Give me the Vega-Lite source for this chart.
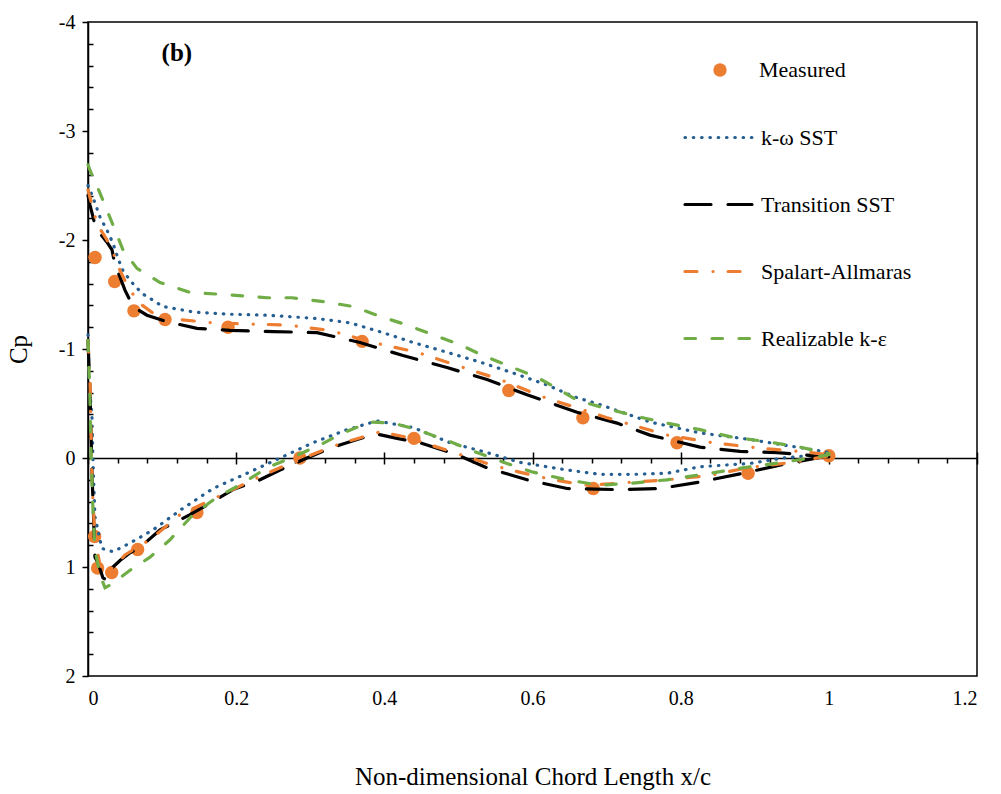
{
  "$schema": "https://vega.github.io/schema/vega-lite/v6.json",
  "width": 889,
  "height": 654,
  "autosize": {"type": "none"},
  "padding": {"left": 88, "top": 22, "right": 24, "bottom": 118},
  "background": "white",
  "config": {
    "view": {"stroke": "black", "strokeWidth": 1.5},
    "font": "Liberation Serif",
    "axis": {"grid": false, "domainColor": "black", "domainWidth": 1.5, "tickColor": "black", "tickWidth": 1.5, "labelFont": "Liberation Serif", "labelFontSize": 20, "labelColor": "black", "titleFont": "Liberation Serif", "titleFontSize": 25, "titleFontWeight": "normal", "titleColor": "black"},
    "legend": {"labelFont": "Liberation Serif", "labelFontSize": 22, "labelColor": "black"}
  },
  "datasets": {
    "measured": [
      {"series": "Measured", "x": 0.0095, "cp": -1.84}, {"series": "Measured", "x": 0.036, "cp": -1.62}, {"series": "Measured", "x": 0.062, "cp": -1.35}, {"series": "Measured", "x": 0.104, "cp": -1.27}, {"series": "Measured", "x": 0.189, "cp": -1.2}, {"series": "Measured", "x": 0.37, "cp": -1.07}, {"series": "Measured", "x": 0.568, "cp": -0.62}, {"series": "Measured", "x": 0.668, "cp": -0.37}, {"series": "Measured", "x": 0.795, "cp": -0.14}, {"series": "Measured", "x": 1.0, "cp": -0.02},
      {"series": "Measured", "x": 0.009, "cp": 0.72}, {"series": "Measured", "x": 0.013, "cp": 1.01}, {"series": "Measured", "x": 0.032, "cp": 1.05}, {"series": "Measured", "x": 0.067, "cp": 0.84}, {"series": "Measured", "x": 0.147, "cp": 0.5}, {"series": "Measured", "x": 0.286, "cp": 0.0}, {"series": "Measured", "x": 0.44, "cp": -0.18}, {"series": "Measured", "x": 0.682, "cp": 0.28}, {"series": "Measured", "x": 0.891, "cp": 0.14}
    ],
    "label": [{"text": "(b)", "x": 0.12, "cp": -3.72}],
    "cfd": [
      {"model": "k-ω SST", "side": "upper", "x": 0, "cp": -2.5}, {"model": "k-ω SST", "side": "upper", "x": 0.0027, "cp": -2.46}, {"model": "k-ω SST", "side": "upper", "x": 0.0094, "cp": -2.34}, {"model": "k-ω SST", "side": "upper", "x": 0.0162, "cp": -2.21}, {"model": "k-ω SST", "side": "upper", "x": 0.0256, "cp": -2.09}, {"model": "k-ω SST", "side": "upper", "x": 0.0337, "cp": -1.97}, {"model": "k-ω SST", "side": "upper", "x": 0.0405, "cp": -1.83}, {"model": "k-ω SST", "side": "upper", "x": 0.0472, "cp": -1.72}, {"model": "k-ω SST", "side": "upper", "x": 0.0567, "cp": -1.63}, {"model": "k-ω SST", "side": "upper", "x": 0.0729, "cp": -1.51}, {"model": "k-ω SST", "side": "upper", "x": 0.1012, "cp": -1.39}, {"model": "k-ω SST", "side": "upper", "x": 0.1417, "cp": -1.34}, {"model": "k-ω SST", "side": "upper", "x": 0.1876, "cp": -1.32}, {"model": "k-ω SST", "side": "upper", "x": 0.2416, "cp": -1.31}, {"model": "k-ω SST", "side": "upper", "x": 0.3091, "cp": -1.28}, {"model": "k-ω SST", "side": "upper", "x": 0.3537, "cp": -1.24}, {"model": "k-ω SST", "side": "upper", "x": 0.3982, "cp": -1.15}, {"model": "k-ω SST", "side": "upper", "x": 0.4387, "cp": -1.06}, {"model": "k-ω SST", "side": "upper", "x": 0.4846, "cp": -0.97}, {"model": "k-ω SST", "side": "upper", "x": 0.5292, "cp": -0.88}, {"model": "k-ω SST", "side": "upper", "x": 0.5737, "cp": -0.78}, {"model": "k-ω SST", "side": "upper", "x": 0.6196, "cp": -0.67}, {"model": "k-ω SST", "side": "upper", "x": 0.657, "cp": -0.56}, {"model": "k-ω SST", "side": "upper", "x": 0.6911, "cp": -0.49}, {"model": "k-ω SST", "side": "upper", "x": 0.7586, "cp": -0.33}, {"model": "k-ω SST", "side": "upper", "x": 0.8261, "cp": -0.23}, {"model": "k-ω SST", "side": "upper", "x": 0.8936, "cp": -0.17}, {"model": "k-ω SST", "side": "upper", "x": 0.9382, "cp": -0.12}, {"model": "k-ω SST", "side": "upper", "x": 0.9841, "cp": -0.07}, {"model": "k-ω SST", "side": "upper", "x": 1.0, "cp": -0.05},
      {"model": "k-ω SST", "side": "lower", "x": 0, "cp": -1.13}, {"model": "k-ω SST", "side": "lower", "x": 0.0013, "cp": -0.72}, {"model": "k-ω SST", "side": "lower", "x": 0.0054, "cp": -0.37}, {"model": "k-ω SST", "side": "lower", "x": 0.0067, "cp": 0.02}, {"model": "k-ω SST", "side": "lower", "x": 0.0094, "cp": 0.54}, {"model": "k-ω SST", "side": "lower", "x": 0.0189, "cp": 0.83}, {"model": "k-ω SST", "side": "lower", "x": 0.0337, "cp": 0.86}, {"model": "k-ω SST", "side": "lower", "x": 0.0567, "cp": 0.78}, {"model": "k-ω SST", "side": "lower", "x": 0.0877, "cp": 0.66}, {"model": "k-ω SST", "side": "lower", "x": 0.1242, "cp": 0.48}, {"model": "k-ω SST", "side": "lower", "x": 0.1687, "cp": 0.28}, {"model": "k-ω SST", "side": "lower", "x": 0.2146, "cp": 0.14}, {"model": "k-ω SST", "side": "lower", "x": 0.2592, "cp": 0.0}, {"model": "k-ω SST", "side": "lower", "x": 0.3037, "cp": -0.14}, {"model": "k-ω SST", "side": "lower", "x": 0.3496, "cp": -0.26}, {"model": "k-ω SST", "side": "lower", "x": 0.3901, "cp": -0.34}, {"model": "k-ω SST", "side": "lower", "x": 0.4387, "cp": -0.28}, {"model": "k-ω SST", "side": "lower", "x": 0.4887, "cp": -0.14}, {"model": "k-ω SST", "side": "lower", "x": 0.5386, "cp": -0.05}, {"model": "k-ω SST", "side": "lower", "x": 0.5832, "cp": 0.04}, {"model": "k-ω SST", "side": "lower", "x": 0.6466, "cp": 0.11}, {"model": "k-ω SST", "side": "lower", "x": 0.6911, "cp": 0.15}, {"model": "k-ω SST", "side": "lower", "x": 0.7357, "cp": 0.15}, {"model": "k-ω SST", "side": "lower", "x": 0.7816, "cp": 0.14}, {"model": "k-ω SST", "side": "lower", "x": 0.8261, "cp": 0.08}, {"model": "k-ω SST", "side": "lower", "x": 0.8936, "cp": 0.05}, {"model": "k-ω SST", "side": "lower", "x": 0.9382, "cp": 0.0}, {"model": "k-ω SST", "side": "lower", "x": 0.9841, "cp": -0.03}, {"model": "k-ω SST", "side": "lower", "x": 1.0, "cp": -0.04},
      {"model": "Transition SST", "side": "upper", "x": 0, "cp": -2.41}, {"model": "Transition SST", "side": "upper", "x": 0.0027, "cp": -2.32}, {"model": "Transition SST", "side": "upper", "x": 0.0094, "cp": -2.14}, {"model": "Transition SST", "side": "upper", "x": 0.0162, "cp": -2.06}, {"model": "Transition SST", "side": "upper", "x": 0.0256, "cp": -1.98}, {"model": "Transition SST", "side": "upper", "x": 0.0324, "cp": -1.91}, {"model": "Transition SST", "side": "upper", "x": 0.0364, "cp": -1.77}, {"model": "Transition SST", "side": "upper", "x": 0.0432, "cp": -1.66}, {"model": "Transition SST", "side": "upper", "x": 0.0499, "cp": -1.54}, {"model": "Transition SST", "side": "upper", "x": 0.0607, "cp": -1.39}, {"model": "Transition SST", "side": "upper", "x": 0.0796, "cp": -1.31}, {"model": "Transition SST", "side": "upper", "x": 0.1066, "cp": -1.25}, {"model": "Transition SST", "side": "upper", "x": 0.1471, "cp": -1.19}, {"model": "Transition SST", "side": "upper", "x": 0.1917, "cp": -1.17}, {"model": "Transition SST", "side": "upper", "x": 0.2497, "cp": -1.16}, {"model": "Transition SST", "side": "upper", "x": 0.3091, "cp": -1.15}, {"model": "Transition SST", "side": "upper", "x": 0.3672, "cp": -1.06}, {"model": "Transition SST", "side": "upper", "x": 0.4252, "cp": -0.94}, {"model": "Transition SST", "side": "upper", "x": 0.4846, "cp": -0.83}, {"model": "Transition SST", "side": "upper", "x": 0.5386, "cp": -0.72}, {"model": "Transition SST", "side": "upper", "x": 0.5926, "cp": -0.58}, {"model": "Transition SST", "side": "upper", "x": 0.6601, "cp": -0.42}, {"model": "Transition SST", "side": "upper", "x": 0.7141, "cp": -0.32}, {"model": "Transition SST", "side": "upper", "x": 0.7586, "cp": -0.21}, {"model": "Transition SST", "side": "upper", "x": 0.8261, "cp": -0.1}, {"model": "Transition SST", "side": "upper", "x": 0.8801, "cp": -0.06}, {"model": "Transition SST", "side": "upper", "x": 0.9301, "cp": -0.05}, {"model": "Transition SST", "side": "upper", "x": 1.0, "cp": -0.01},
      {"model": "Transition SST", "side": "lower", "x": 0, "cp": -1.08}, {"model": "Transition SST", "side": "lower", "x": 0.0027, "cp": -0.62}, {"model": "Transition SST", "side": "lower", "x": 0.0054, "cp": 0.14}, {"model": "Transition SST", "side": "lower", "x": 0.0094, "cp": 0.91}, {"model": "Transition SST", "side": "lower", "x": 0.0135, "cp": 0.96}, {"model": "Transition SST", "side": "lower", "x": 0.0202, "cp": 1.1}, {"model": "Transition SST", "side": "lower", "x": 0.0256, "cp": 1.12}, {"model": "Transition SST", "side": "lower", "x": 0.0337, "cp": 1.0}, {"model": "Transition SST", "side": "lower", "x": 0.0432, "cp": 0.94}, {"model": "Transition SST", "side": "lower", "x": 0.0567, "cp": 0.87}, {"model": "Transition SST", "side": "lower", "x": 0.0702, "cp": 0.82}, {"model": "Transition SST", "side": "lower", "x": 0.0972, "cp": 0.66}, {"model": "Transition SST", "side": "lower", "x": 0.1377, "cp": 0.52}, {"model": "Transition SST", "side": "lower", "x": 0.1687, "cp": 0.4}, {"model": "Transition SST", "side": "lower", "x": 0.1957, "cp": 0.29}, {"model": "Transition SST", "side": "lower", "x": 0.2322, "cp": 0.2}, {"model": "Transition SST", "side": "lower", "x": 0.2592, "cp": 0.11}, {"model": "Transition SST", "side": "lower", "x": 0.2956, "cp": 0.0}, {"model": "Transition SST", "side": "lower", "x": 0.3267, "cp": -0.09}, {"model": "Transition SST", "side": "lower", "x": 0.3631, "cp": -0.17}, {"model": "Transition SST", "side": "lower", "x": 0.3901, "cp": -0.22}, {"model": "Transition SST", "side": "lower", "x": 0.4171, "cp": -0.18}, {"model": "Transition SST", "side": "lower", "x": 0.4482, "cp": -0.14}, {"model": "Transition SST", "side": "lower", "x": 0.4981, "cp": -0.03}, {"model": "Transition SST", "side": "lower", "x": 0.5386, "cp": 0.09}, {"model": "Transition SST", "side": "lower", "x": 0.5926, "cp": 0.2}, {"model": "Transition SST", "side": "lower", "x": 0.6466, "cp": 0.28}, {"model": "Transition SST", "side": "lower", "x": 0.7141, "cp": 0.29}, {"model": "Transition SST", "side": "lower", "x": 0.7722, "cp": 0.28}, {"model": "Transition SST", "side": "lower", "x": 0.8261, "cp": 0.22}, {"model": "Transition SST", "side": "lower", "x": 0.8842, "cp": 0.14}, {"model": "Transition SST", "side": "lower", "x": 0.9436, "cp": 0.05}, {"model": "Transition SST", "side": "lower", "x": 1.0, "cp": -0.02},
      {"model": "Spalart-Allmaras", "side": "upper", "x": 0, "cp": -2.46}, {"model": "Spalart-Allmaras", "side": "upper", "x": 0.0027, "cp": -2.39}, {"model": "Spalart-Allmaras", "side": "upper", "x": 0.0121, "cp": -2.15}, {"model": "Spalart-Allmaras", "side": "upper", "x": 0.0256, "cp": -2.0}, {"model": "Spalart-Allmaras", "side": "upper", "x": 0.0337, "cp": -1.89}, {"model": "Spalart-Allmaras", "side": "upper", "x": 0.0432, "cp": -1.72}, {"model": "Spalart-Allmaras", "side": "upper", "x": 0.0526, "cp": -1.59}, {"model": "Spalart-Allmaras", "side": "upper", "x": 0.0675, "cp": -1.43}, {"model": "Spalart-Allmaras", "side": "upper", "x": 0.0877, "cp": -1.33}, {"model": "Spalart-Allmaras", "side": "upper", "x": 0.1242, "cp": -1.27}, {"model": "Spalart-Allmaras", "side": "upper", "x": 0.1687, "cp": -1.24}, {"model": "Spalart-Allmaras", "side": "upper", "x": 0.2146, "cp": -1.23}, {"model": "Spalart-Allmaras", "side": "upper", "x": 0.2686, "cp": -1.22}, {"model": "Spalart-Allmaras", "side": "upper", "x": 0.3267, "cp": -1.17}, {"model": "Spalart-Allmaras", "side": "upper", "x": 0.3847, "cp": -1.06}, {"model": "Spalart-Allmaras", "side": "upper", "x": 0.4441, "cp": -0.97}, {"model": "Spalart-Allmaras", "side": "upper", "x": 0.5022, "cp": -0.84}, {"model": "Spalart-Allmaras", "side": "upper", "x": 0.5562, "cp": -0.72}, {"model": "Spalart-Allmaras", "side": "upper", "x": 0.6142, "cp": -0.56}, {"model": "Spalart-Allmaras", "side": "upper", "x": 0.7006, "cp": -0.37}, {"model": "Spalart-Allmaras", "side": "upper", "x": 0.7816, "cp": -0.21}, {"model": "Spalart-Allmaras", "side": "upper", "x": 0.8437, "cp": -0.14}, {"model": "Spalart-Allmaras", "side": "upper", "x": 0.9071, "cp": -0.09}, {"model": "Spalart-Allmaras", "side": "upper", "x": 0.9611, "cp": -0.06}, {"model": "Spalart-Allmaras", "side": "upper", "x": 1.0, "cp": -0.03},
      {"model": "Spalart-Allmaras", "side": "lower", "x": 0, "cp": -1.08}, {"model": "Spalart-Allmaras", "side": "lower", "x": 0.0027, "cp": -0.72}, {"model": "Spalart-Allmaras", "side": "lower", "x": 0.0054, "cp": 0.2}, {"model": "Spalart-Allmaras", "side": "lower", "x": 0.0094, "cp": 0.75}, {"model": "Spalart-Allmaras", "side": "lower", "x": 0.0162, "cp": 0.98}, {"model": "Spalart-Allmaras", "side": "lower", "x": 0.0256, "cp": 1.06}, {"model": "Spalart-Allmaras", "side": "lower", "x": 0.0364, "cp": 0.98}, {"model": "Spalart-Allmaras", "side": "lower", "x": 0.0499, "cp": 0.89}, {"model": "Spalart-Allmaras", "side": "lower", "x": 0.0661, "cp": 0.82}, {"model": "Spalart-Allmaras", "side": "lower", "x": 0.0837, "cp": 0.75}, {"model": "Spalart-Allmaras", "side": "lower", "x": 0.1242, "cp": 0.52}, {"model": "Spalart-Allmaras", "side": "lower", "x": 0.1741, "cp": 0.36}, {"model": "Spalart-Allmaras", "side": "lower", "x": 0.2322, "cp": 0.17}, {"model": "Spalart-Allmaras", "side": "lower", "x": 0.2592, "cp": 0.09}, {"model": "Spalart-Allmaras", "side": "lower", "x": 0.3132, "cp": -0.06}, {"model": "Spalart-Allmaras", "side": "lower", "x": 0.3442, "cp": -0.14}, {"model": "Spalart-Allmaras", "side": "lower", "x": 0.3699, "cp": -0.19}, {"model": "Spalart-Allmaras", "side": "lower", "x": 0.3942, "cp": -0.24}, {"model": "Spalart-Allmaras", "side": "lower", "x": 0.4306, "cp": -0.19}, {"model": "Spalart-Allmaras", "side": "lower", "x": 0.4846, "cp": -0.07}, {"model": "Spalart-Allmaras", "side": "lower", "x": 0.5386, "cp": 0.05}, {"model": "Spalart-Allmaras", "side": "lower", "x": 0.5697, "cp": 0.11}, {"model": "Spalart-Allmaras", "side": "lower", "x": 0.6277, "cp": 0.2}, {"model": "Spalart-Allmaras", "side": "lower", "x": 0.6736, "cp": 0.25}, {"model": "Spalart-Allmaras", "side": "lower", "x": 0.7181, "cp": 0.23}, {"model": "Spalart-Allmaras", "side": "lower", "x": 0.7816, "cp": 0.2}, {"model": "Spalart-Allmaras", "side": "lower", "x": 0.8396, "cp": 0.16}, {"model": "Spalart-Allmaras", "side": "lower", "x": 0.8896, "cp": 0.09}, {"model": "Spalart-Allmaras", "side": "lower", "x": 0.9517, "cp": 0.04}, {"model": "Spalart-Allmaras", "side": "lower", "x": 1.0, "cp": -0.02},
      {"model": "Realizable k-ε", "side": "upper", "x": 0, "cp": -2.69}, {"model": "Realizable k-ε", "side": "upper", "x": 0.0027, "cp": -2.64}, {"model": "Realizable k-ε", "side": "upper", "x": 0.0162, "cp": -2.43}, {"model": "Realizable k-ε", "side": "upper", "x": 0.0324, "cp": -2.16}, {"model": "Realizable k-ε", "side": "upper", "x": 0.0472, "cp": -1.91}, {"model": "Realizable k-ε", "side": "upper", "x": 0.0661, "cp": -1.74}, {"model": "Realizable k-ε", "side": "upper", "x": 0.0972, "cp": -1.61}, {"model": "Realizable k-ε", "side": "upper", "x": 0.1377, "cp": -1.52}, {"model": "Realizable k-ε", "side": "upper", "x": 0.1822, "cp": -1.5}, {"model": "Realizable k-ε", "side": "upper", "x": 0.2416, "cp": -1.47}, {"model": "Realizable k-ε", "side": "upper", "x": 0.2754, "cp": -1.47}, {"model": "Realizable k-ε", "side": "upper", "x": 0.3226, "cp": -1.43}, {"model": "Realizable k-ε", "side": "upper", "x": 0.3577, "cp": -1.39}, {"model": "Realizable k-ε", "side": "upper", "x": 0.3942, "cp": -1.3}, {"model": "Realizable k-ε", "side": "upper", "x": 0.4306, "cp": -1.22}, {"model": "Realizable k-ε", "side": "upper", "x": 0.4657, "cp": -1.13}, {"model": "Realizable k-ε", "side": "upper", "x": 0.5022, "cp": -1.04}, {"model": "Realizable k-ε", "side": "upper", "x": 0.5332, "cp": -0.94}, {"model": "Realizable k-ε", "side": "upper", "x": 0.5697, "cp": -0.84}, {"model": "Realizable k-ε", "side": "upper", "x": 0.6061, "cp": -0.74}, {"model": "Realizable k-ε", "side": "upper", "x": 0.6331, "cp": -0.64}, {"model": "Realizable k-ε", "side": "upper", "x": 0.6601, "cp": -0.53}, {"model": "Realizable k-ε", "side": "upper", "x": 0.6911, "cp": -0.47}, {"model": "Realizable k-ε", "side": "upper", "x": 0.7357, "cp": -0.39}, {"model": "Realizable k-ε", "side": "upper", "x": 0.7816, "cp": -0.32}, {"model": "Realizable k-ε", "side": "upper", "x": 0.8261, "cp": -0.26}, {"model": "Realizable k-ε", "side": "upper", "x": 0.8707, "cp": -0.19}, {"model": "Realizable k-ε", "side": "upper", "x": 0.9166, "cp": -0.15}, {"model": "Realizable k-ε", "side": "upper", "x": 0.9611, "cp": -0.1}, {"model": "Realizable k-ε", "side": "upper", "x": 1.0, "cp": -0.04},
      {"model": "Realizable k-ε", "side": "lower", "x": 0, "cp": -1.08}, {"model": "Realizable k-ε", "side": "lower", "x": 0.0027, "cp": -0.53}, {"model": "Realizable k-ε", "side": "lower", "x": 0.004, "cp": -0.07}, {"model": "Realizable k-ε", "side": "lower", "x": 0.0067, "cp": 0.48}, {"model": "Realizable k-ε", "side": "lower", "x": 0.0094, "cp": 0.84}, {"model": "Realizable k-ε", "side": "lower", "x": 0.0162, "cp": 1.07}, {"model": "Realizable k-ε", "side": "lower", "x": 0.0229, "cp": 1.19}, {"model": "Realizable k-ε", "side": "lower", "x": 0.0337, "cp": 1.15}, {"model": "Realizable k-ε", "side": "lower", "x": 0.0567, "cp": 1.03}, {"model": "Realizable k-ε", "side": "lower", "x": 0.0837, "cp": 0.91}, {"model": "Realizable k-ε", "side": "lower", "x": 0.1107, "cp": 0.75}, {"model": "Realizable k-ε", "side": "lower", "x": 0.1417, "cp": 0.52}, {"model": "Realizable k-ε", "side": "lower", "x": 0.1741, "cp": 0.36}, {"model": "Realizable k-ε", "side": "lower", "x": 0.2092, "cp": 0.23}, {"model": "Realizable k-ε", "side": "lower", "x": 0.2416, "cp": 0.09}, {"model": "Realizable k-ε", "side": "lower", "x": 0.2767, "cp": -0.01}, {"model": "Realizable k-ε", "side": "lower", "x": 0.3132, "cp": -0.12}, {"model": "Realizable k-ε", "side": "lower", "x": 0.3442, "cp": -0.23}, {"model": "Realizable k-ε", "side": "lower", "x": 0.3807, "cp": -0.33}, {"model": "Realizable k-ε", "side": "lower", "x": 0.4117, "cp": -0.32}, {"model": "Realizable k-ε", "side": "lower", "x": 0.4441, "cp": -0.26}, {"model": "Realizable k-ε", "side": "lower", "x": 0.4887, "cp": -0.15}, {"model": "Realizable k-ε", "side": "lower", "x": 0.5251, "cp": -0.05}, {"model": "Realizable k-ε", "side": "lower", "x": 0.5656, "cp": 0.05}, {"model": "Realizable k-ε", "side": "lower", "x": 0.6007, "cp": 0.13}, {"model": "Realizable k-ε", "side": "lower", "x": 0.6466, "cp": 0.2}, {"model": "Realizable k-ε", "side": "lower", "x": 0.6911, "cp": 0.25}, {"model": "Realizable k-ε", "side": "lower", "x": 0.7357, "cp": 0.23}, {"model": "Realizable k-ε", "side": "lower", "x": 0.7816, "cp": 0.2}, {"model": "Realizable k-ε", "side": "lower", "x": 0.8491, "cp": 0.13}, {"model": "Realizable k-ε", "side": "lower", "x": 0.8936, "cp": 0.08}, {"model": "Realizable k-ε", "side": "lower", "x": 0.9382, "cp": 0.04}, {"model": "Realizable k-ε", "side": "lower", "x": 0.9841, "cp": -0.01}, {"model": "Realizable k-ε", "side": "lower", "x": 1.0, "cp": -0.03}
    ]
  },
  "resolve": {"axis": {"x": "independent", "y": "independent"}},
  "layer": [
    {
      "data": {"name": "measured"},
      "mark": {"type": "circle", "size": 180, "opacity": 1},
      "encoding": {
        "x": {"field": "x", "type": "quantitative", "scale": {"domain": [0, 1.2], "nice": false, "zero": false},
          "axis": {"orient": "bottom", "offset": -218, "values": [0.04, 0.08, 0.12, 0.16, 0.24, 0.28, 0.32, 0.36, 0.44, 0.48, 0.52, 0.56, 0.64, 0.68, 0.72, 0.76, 0.84, 0.88, 0.92, 0.96, 1.04, 1.08, 1.12, 1.16], "tickSize": 5, "labels": false, "domain": false, "title": null}},
        "y": {"field": "cp", "type": "quantitative", "scale": {"domain": [-4, 2], "reverse": true, "nice": false, "zero": false},
          "axis": {"orient": "right", "offset": -889, "values": [-3.8, -3.6, -3.4, -3.2, -2.8, -2.6, -2.4, -2.2, -1.8, -1.6, -1.4, -1.2, -0.8, -0.6, -0.4, -0.2, 0.2, 0.4, 0.6, 0.8, 1.2, 1.4, 1.6, 1.8], "tickSize": 5, "labels": false, "domain": false, "title": null}},
        "fill": {"field": "series", "type": "nominal", "scale": {"range": ["#ED7D31"]},
          "legend": {"title": null, "orient": "none", "legendX": 621, "legendY": 37, "symbolType": "circle", "symbolSize": 180, "symbolStrokeWidth": 0, "labelOffset": 28, "padding": 0}}
      }
    },
    {
      "data": {"name": "cfd"},
      "mark": {"type": "line", "strokeWidth": 3.2, "strokeCap": "round"},
      "encoding": {
        "x": {"field": "x", "type": "quantitative", "scale": {"domain": [0, 1.2], "nice": false, "zero": false},
          "axis": {"orient": "bottom", "offset": -218, "values": [0, 0.2, 0.4, 0.6, 0.8, 1, 1.2], "tickSize": 6, "labelPadding": 224, "labelExpr": "'' + datum.value", "title": "Non-dimensional Chord Length x/c", "titlePadding": 106}},
        "y": {"field": "cp", "type": "quantitative", "scale": {"domain": [-4, 2], "reverse": true, "nice": false, "zero": false},
          "axis": {"orient": "left", "values": [-4, -3, -2, -1, 0, 1, 2], "tickSize": 6, "labelPadding": 7, "labelExpr": "'' + datum.value", "title": "Cp", "titlePadding": 27}},
        "color": {"field": "model", "type": "nominal",
          "scale": {"domain": ["k-ω SST", "Transition SST", "Spalart-Allmaras", "Realizable k-ε"], "range": ["#255E91", "#000000", "#ED7D31", "#70AD47"]},
          "legend": {"title": null, "orient": "none", "legendX": 595, "legendY": 80, "symbolType": "stroke", "symbolSize": 4489, "symbolStrokeWidth": 3.2, "labelOffset": 7, "rowPadding": 20, "padding": 0,
            "encode": {"symbols": {"update": {"strokeCap": {"value": "round"}}}}}},
        "strokeDash": {"field": "model", "type": "nominal",
          "scale": {"domain": ["k-ω SST", "Transition SST", "Spalart-Allmaras", "Realizable k-ε"], "range": [[0.5, 7.8], [26, 17], [12, 16, 0.1, 15], [10.5, 16.5]]}},
        "detail": {"field": "side", "type": "nominal"}
      }
    },
    {
      "data": {"name": "label"},
      "mark": {"type": "text", "font": "Liberation Serif", "fontSize": 25, "fontWeight": "bold", "color": "black"},
      "encoding": {
        "x": {"field": "x", "type": "quantitative", "scale": {"domain": [0, 1.2], "nice": false, "zero": false},
          "axis": {"orient": "top", "offset": -436, "values": [0, 0.2, 0.4, 0.6, 0.8, 1, 1.2], "tickSize": 6, "labels": false, "domain": false, "title": null}},
        "y": {"field": "cp", "type": "quantitative", "scale": {"domain": [-4, 2], "reverse": true, "nice": false, "zero": false}, "axis": null},
        "text": {"field": "text"}
      }
    }
  ]
}
